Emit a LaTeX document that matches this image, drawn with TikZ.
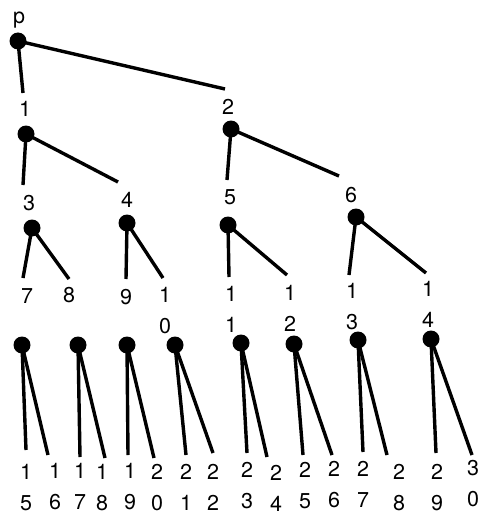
\documentclass[tikz,border=0pt]{standalone}
\usepackage{fontspec}
\setmainfont{TeX Gyre Heros}
\begin{document}
\begin{tikzpicture}[x=1pt,y=-1pt,
  dot/.style={circle,fill=black,inner sep=0pt,minimum size=17pt},
  lab/.style={inner sep=0pt,align=center,font=\fontsize{21.5}{31}\selectfont},
  edge/.style={line width=3.4pt}]
\useasboundingbox (0,0) rectangle (481,516);
% labels
\node[lab] (lp) at (19,20) {p};
\node[lab] (l1) at (25,109) {1};
\node[lab] (l2) at (228,107) {2};
\node[lab] (l3) at (29,203) {3};
\node[lab] (l4) at (127,200) {4};
\node[lab] (l5) at (230,197) {5};
\node[lab] (l6) at (351,195) {6};
\node[lab] (l7) at (27,296) {7};
\node[lab] (l8) at (69,295) {8};
\node[lab] (l9) at (126,297) {9};
\node[lab] (l10) at (165,311) {1\\0};
\node[lab] (l11) at (231,309) {1\\1};
\node[lab] (l12) at (290,308) {1\\2};
\node[lab] (l13) at (352,307) {1\\3};
\node[lab] (l14) at (428,304) {1\\4};
\node[lab] (l15) at (26,488) {1\\5};
\node[lab] (l16) at (55,487) {1\\6};
\node[lab] (l17) at (80,486) {1\\7};
\node[lab] (l18) at (102,488) {1\\8};
\node[lab] (l19) at (130,487) {1\\9};
\node[lab] (l20) at (157,488) {2\\0};
\node[lab] (l21) at (186,487) {2\\1};
\node[lab] (l22) at (213,487) {2\\2};
\node[lab] (l23) at (247,486) {2\\3};
\node[lab] (l24) at (276,488) {2\\4};
\node[lab] (l25) at (305,486) {2\\5};
\node[lab] (l26) at (334,485) {2\\6};
\node[lab] (l27) at (363,484) {2\\7};
\node[lab] (l28) at (399,488) {2\\8};
\node[lab] (l29) at (437,488) {2\\9};
\node[lab] (l30) at (473,484) {3\\0};
% dots
\node[dot] (p) at (18,41) {};
\node[dot] (n1) at (26,134) {};
\node[dot] (n2) at (231,129) {};
\node[dot] (n3) at (32,228) {};
\node[dot] (n4) at (127,223) {};
\node[dot] (n5) at (228,225) {};
\node[dot] (n6) at (356,217) {};
\node[dot] (n7) at (22,345) {};
\node[dot] (n8) at (78,345) {};
\node[dot] (n9) at (127,345) {};
\node[dot] (n10) at (175,345) {};
\node[dot] (n11) at (241,343) {};
\node[dot] (n12) at (294,344) {};
\node[dot] (n13) at (358,340) {};
\node[dot] (n14) at (431,339) {};
% edge ends
\coordinate (c1) at (23,93);
\coordinate (c2) at (225,89);
\coordinate (c3) at (23,185);
\coordinate (c4) at (118,182);
\coordinate (c5) at (227,180);
\coordinate (c6) at (339,176);
\coordinate (c7) at (23,278);
\coordinate (c8) at (69,279);
\coordinate (c9) at (126,279);
\coordinate (c10) at (163,278);
\coordinate (c11) at (229,277);
\coordinate (c12) at (287,275);
\coordinate (c13) at (349,275);
\coordinate (c14) at (426,273);
\coordinate (c15) at (26,450);
\coordinate (c16) at (48,455);
\coordinate (c17) at (80,457);
\coordinate (c18) at (105,458);
\coordinate (c19) at (128,455);
\coordinate (c20) at (154,458);
\coordinate (c21) at (186,455);
\coordinate (c22) at (213,453);
\coordinate (c23) at (247,453);
\coordinate (c24) at (267,457);
\coordinate (c25) at (303,455);
\coordinate (c26) at (332,455);
\coordinate (c27) at (363,452);
\coordinate (c28) at (387,455);
\coordinate (c29) at (436,453);
\coordinate (c30) at (472,455);
% edges
\draw[edge] (p.center) -- (c1);
\draw[edge] (p.center) -- (c2);
\draw[edge] (n1.center) -- (c3);
\draw[edge] (n1.center) -- (c4);
\draw[edge] (n2.center) -- (c5);
\draw[edge] (n2.center) -- (c6);
\draw[edge] (n3.center) -- (c7);
\draw[edge] (n3.center) -- (c8);
\draw[edge] (n4.center) -- (c9);
\draw[edge] (n4.center) -- (c10);
\draw[edge] (n5.center) -- (c11);
\draw[edge] (n5.center) -- (c12);
\draw[edge] (n6.center) -- (c13);
\draw[edge] (n6.center) -- (c14);
\draw[edge] (n7.center) -- (c15);
\draw[edge] (n7.center) -- (c16);
\draw[edge] (n8.center) -- (c17);
\draw[edge] (n8.center) -- (c18);
\draw[edge] (n9.center) -- (c19);
\draw[edge] (n9.center) -- (c20);
\draw[edge] (n10.center) -- (c21);
\draw[edge] (n10.center) -- (c22);
\draw[edge] (n11.center) -- (c23);
\draw[edge] (n11.center) -- (c24);
\draw[edge] (n12.center) -- (c25);
\draw[edge] (n12.center) -- (c26);
\draw[edge] (n13.center) -- (c27);
\draw[edge] (n13.center) -- (c28);
\draw[edge] (n14.center) -- (c29);
\draw[edge] (n14.center) -- (c30);
\end{tikzpicture}
\end{document}
